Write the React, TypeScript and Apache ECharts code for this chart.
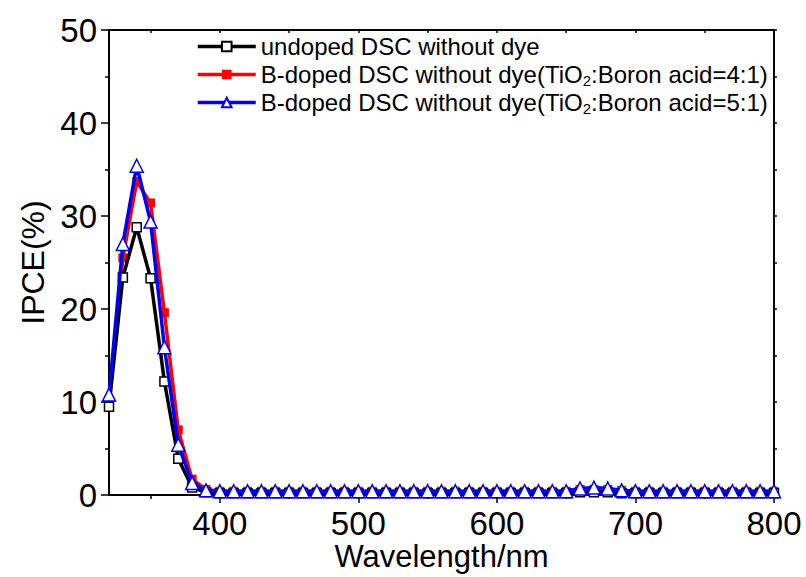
import React, { useEffect, useRef } from "react";
import * as echarts from "echarts";

const wavelengths = [
  320, 330, 340, 350, 360, 370, 380, 390,
  400, 410, 420, 430, 440, 450, 460, 470, 480, 490,
  500, 510, 520, 530, 540, 550, 560, 570, 580, 590,
  600, 610, 620, 630, 640, 650, 660, 670, 680, 690,
  700, 710, 720, 730, 740, 750, 760, 770, 780, 790, 800,
];

const undoped = [
  9.5, 23.4, 28.8, 23.3, 12.2, 3.9, 0.8, 0.3,
  0.2, 0.2, 0.2, 0.2, 0.2, 0.2, 0.2, 0.2, 0.2, 0.2,
  0.2, 0.2, 0.2, 0.2, 0.2, 0.2, 0.2, 0.2, 0.2, 0.2,
  0.2, 0.2, 0.2, 0.2, 0.2, 0.2, 0.3, 0.3, 0.3, 0.2,
  0.2, 0.2, 0.2, 0.2, 0.2, 0.2, 0.2, 0.2, 0.2, 0.2, 0.2,
];

const doped41 = [
  10.2, 25.5, 33.7, 31.4, 19.6, 7.0, 1.7, 0.6,
  0.4, 0.4, 0.4, 0.4, 0.4, 0.4, 0.4, 0.4, 0.4, 0.4,
  0.4, 0.4, 0.4, 0.4, 0.4, 0.4, 0.4, 0.4, 0.4, 0.4,
  0.4, 0.4, 0.4, 0.4, 0.4, 0.4, 0.6, 0.6, 0.6, 0.5,
  0.4, 0.4, 0.4, 0.4, 0.4, 0.4, 0.4, 0.4, 0.4, 0.4, 0.4,
];

const doped51 = [
  10.8, 27.0, 35.4, 29.4, 15.9, 5.4, 1.3, 0.5,
  0.4, 0.4, 0.4, 0.4, 0.4, 0.4, 0.4, 0.4, 0.4, 0.4,
  0.4, 0.4, 0.4, 0.4, 0.4, 0.4, 0.4, 0.4, 0.4, 0.4,
  0.4, 0.4, 0.4, 0.4, 0.4, 0.4, 0.7, 0.8, 0.7, 0.5,
  0.4, 0.4, 0.4, 0.4, 0.4, 0.4, 0.4, 0.4, 0.4, 0.4, 0.4,
];

const seriesNames = [
  "undoped DSC without dye",
  "B-doped DSC without dye(TiO2:Boron acid=4:1)",
  "B-doped DSC without dye(TiO2:Boron acid=5:1)",
];

const xMajorTicks = [400, 500, 600, 700, 800];
const xMinorTicks = [350, 450, 550, 650, 750];

const FONT = 'Arial, "Liberation Sans", sans-serif';

export default function App() {
  const ref = useRef<HTMLDivElement>(null);

  useEffect(() => {
    if (!ref.current) return;
    const chart = echarts.init(ref.current, null, { renderer: "svg" });
    const pairs = (ys: number[]) => wavelengths.map((x, i) => [x, ys[i]]);

    const option: any = {
      animation: false,
      backgroundColor: "#fff",
      textStyle: { fontFamily: FONT },
      grid: { left: 109, top: 30, right: 32, bottom: 82, containLabel: false, outerBoundsMode: "none" },
      legend: {
        orient: "vertical",
        left: 191,
        top: 28,
        itemWidth: 58,
        itemHeight: 12,
        itemGap: 1,
        itemTextGap: 6,
        data: seriesNames,
        lineStyle: { width: 3.5 },
        formatter: (name: string) => name.replace("TiO2", "TiO{sub|2}"),
        textStyle: {
          fontFamily: FONT,
          fontSize: 24,
          color: "#000",
          lineHeight: 27,
          rich: {
            sub: { fontSize: 15, lineHeight: 14, verticalAlign: "bottom", fontFamily: FONT, color: "#000" },
          },
        },
      },
      xAxis: [
        {
          type: "value",
          position: "bottom",
          min: 320,
          max: 800,
          axisLine: { show: true, lineStyle: { color: "#000", width: 2 } },
          axisTick: { show: true, inside: false, length: 8, customValues: xMajorTicks, lineStyle: { color: "#000", width: 1.5 } },
          axisLabel: { customValues: xMajorTicks, fontSize: 33, lineHeight: 32, color: "#000", margin: 12, fontFamily: FONT },
          splitLine: { show: false },
          name: "Wavelength/nm",
          nameLocation: "middle",
          nameGap: 46,
          nameMoveOverlap: false,
          nameTextStyle: { fontSize: 31, color: "#000", fontFamily: FONT, lineHeight: 31 },
        },
        {
          type: "value",
          position: "bottom",
          min: 320,
          max: 800,
          axisLine: { show: false },
          axisTick: { show: true, inside: false, length: 4, customValues: xMinorTicks, lineStyle: { color: "#000", width: 1.5 } },
          axisLabel: { show: false },
          splitLine: { show: false },
        },
        {
          type: "value",
          position: "top",
          min: 320,
          max: 800,
          axisLine: { show: true, lineStyle: { color: "#000", width: 2 } },
          axisTick: { show: true, inside: true, length: 3, customValues: [...xMinorTicks, ...xMajorTicks], lineStyle: { color: "#000", width: 1.5 } },
          axisLabel: { show: false },
          splitLine: { show: false },
        },
      ],
      yAxis: [
        {
          type: "value",
          position: "left",
          min: 0,
          max: 50,
          interval: 10,
          axisLine: { show: true, lineStyle: { color: "#000", width: 2 } },
          axisTick: { show: true, inside: false, length: 8, lineStyle: { color: "#000", width: 1.5 } },
          minorTick: { show: true, splitNumber: 2, length: 4, lineStyle: { color: "#000", width: 1.5 } },
          axisLabel: { fontSize: 33, color: "#000", margin: 12, fontFamily: FONT },
          splitLine: { show: false },
          minorSplitLine: { show: false },
          name: "IPCE(%)",
          nameLocation: "middle",
          nameGap: 60,
          nameTextStyle: { fontSize: 32, color: "#000", fontFamily: FONT },
        },
        {
          type: "value",
          position: "right",
          min: 0,
          max: 50,
          interval: 5,
          axisLine: { show: true, lineStyle: { color: "#000", width: 2 } },
          axisTick: { show: true, inside: false, length: 3, lineStyle: { color: "#000", width: 1.5 } },
          axisLabel: { show: false },
          splitLine: { show: false },
        },
      ],
      series: [
        {
          name: seriesNames[0],
          type: "line",
          data: pairs(undoped),
          z: 3,
          symbol: "rect",
          symbolSize: 9,
          showAllSymbol: true,
          lineStyle: { color: "#000", width: 3.5 },
          itemStyle: { color: "#fff", borderColor: "#000", borderWidth: 1.5 },
        },
        {
          name: seriesNames[1],
          type: "line",
          data: pairs(doped41),
          z: 2,
          symbol: "rect",
          symbolSize: 9,
          showAllSymbol: true,
          lineStyle: { color: "#ff0000", width: 3.5 },
          itemStyle: { color: "#ff0000", borderColor: "#ff0000", borderWidth: 0 },
        },
        {
          name: seriesNames[2],
          type: "line",
          data: pairs(doped51),
          z: 4,
          symbol: "triangle",
          symbolSize: 13,
          showAllSymbol: true,
          lineStyle: { color: "#0000ff", width: 3.5 },
          itemStyle: { color: "#fff", borderColor: "#0000ff", borderWidth: 1.5 },
        },
      ],
    };

    chart.setOption(option);
    return () => chart.dispose();
  }, []);

  return (
    <div
      ref={ref}
      style={{ position: "absolute", left: 0, top: 0, width: 806, height: 577, background: "#fff" }}
    />
  );
}
